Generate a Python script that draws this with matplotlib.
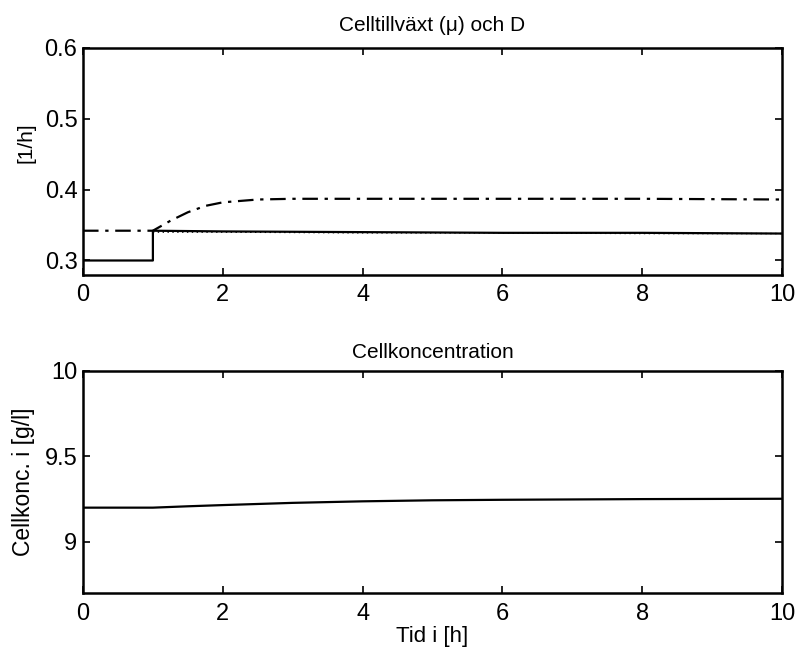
import matplotlib
matplotlib.use("Agg")
import matplotlib.pyplot as plt

plt.rcParams['font.family'] = ['Liberation Sans', 'DejaVu Sans']

# Upper plot: growth rate (mu) and dilution rate D
t_mu = [0, 1.0, 1.25, 1.5, 1.75, 2.0, 2.5, 3.0, 4.0, 6.0, 8.0, 10.0]
mu = [0.342, 0.342, 0.356, 0.368, 0.377, 0.382, 0.386, 0.387, 0.387, 0.387, 0.387, 0.386]

t_D = [0, 1.0, 1.0, 2.0, 4.0, 6.0, 8.0, 10.0]
D = [0.300, 0.300, 0.342, 0.341, 0.340, 0.339, 0.339, 0.338]

t_dot = [1.0, 2.0, 4.0, 6.0, 8.0, 10.0]
mu_ref = [0.340, 0.340, 0.339, 0.339, 0.338, 0.338]

# Lower plot: cell concentration
t_x = [0, 1.0, 1.5, 2.0, 3.0, 4.0, 5.0, 6.0, 8.0, 10.0]
x_conc = [9.20, 9.20, 9.208, 9.215, 9.228, 9.237, 9.243, 9.246, 9.250, 9.252]

fig = plt.figure(figsize=(7.98, 6.54), dpi=100)
ax1 = fig.add_axes([0.104, 0.580, 0.876, 0.347])
ax2 = fig.add_axes([0.104, 0.093, 0.876, 0.340])

lw = 1.6
ax1.plot(t_mu, mu, color='black', linestyle=(0, (7, 3, 1.5, 3)), linewidth=lw)
ax1.plot(t_D, D, color='black', linestyle='-', linewidth=lw)
ax1.plot(t_dot, mu_ref, color='black', linestyle=(0, (1, 2.5)), linewidth=1.0)
ax1.set_xlim(0, 10)
ax1.set_ylim(0.28, 0.6)
ax1.set_yticks([0.3, 0.4, 0.5, 0.6])
ax1.set_yticklabels(['0.3', '0.4', '0.5', '0.6'])
ax1.set_xticks([0, 2, 4, 6, 8, 10])
ax1.set_ylabel('[1/h]', fontsize=15)
ax1.yaxis.set_label_coords(-0.068, 0.58)
ax1.set_title('Celltillväxt (\u03bc) och D', fontsize=15, pad=12)

ax2.plot(t_x, x_conc, color='black', linestyle='-', linewidth=lw)
ax2.set_xlim(0, 10)
ax2.set_ylim(8.7, 10)
ax2.set_yticks([9, 9.5, 10])
ax2.set_yticklabels(['9', '9.5', '10'])
ax2.set_xticks([0, 2, 4, 6, 8, 10])
ax2.set_ylabel('Cellkonc. i [g/l]', fontsize=16.5)
ax2.yaxis.set_label_coords(-0.068, 0.5)
ax2.set_xlabel('Tid i [h]', fontsize=16, labelpad=1)
ax2.set_title('Cellkoncentration', fontsize=15, pad=9)

for ax in (ax1, ax2):
    ax.tick_params(direction='in', top=True, right=True, labelsize=17, length=5, width=1.2, pad=7)
    ax.tick_params(axis='y', pad=4)
    for s in ax.spines.values():
        s.set_linewidth(1.8)

fig.savefig('out.png', dpi=100)
